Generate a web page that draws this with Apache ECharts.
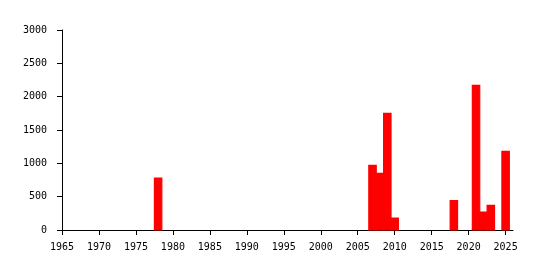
<!DOCTYPE html>
<html><head><meta charset="utf-8">
<script src="https://cdn.jsdelivr.net/npm/echarts@6/dist/echarts.min.js"></script>
<style>html,body{margin:0;padding:0;background:#fff}#c{width:541px;height:270px}</style>
</head><body><div id="c"></div>
<script>
const years = [1978, 2007, 2008, 2009, 2010, 2018, 2021, 2022, 2023, 2025];
const values = [780, 970, 850, 1750, 180, 440, 2170, 270, 370, 1180];
const xTicks = [1965, 1970, 1975, 1980, 1985, 1990, 1995, 2000, 2005, 2010, 2015, 2020, 2025];
const yTicks = [0, 500, 1000, 1500, 2000, 2500, 3000];

const chart = echarts.init(document.getElementById('c'), null, {renderer: 'canvas'});
const font = {fontFamily: 'DejaVu Sans Mono', fontSize: 10, color: '#000'};
chart.setOption({
  animation: false,
  backgroundColor: '#fff',
  grid: {left: 62, right: 28, top: 30, bottom: 40, containLabel: false},
  xAxis: {
    type: 'value', min: 1965, max: 2026, interval: 5,
    axisLine: {lineStyle: {color: '#000', width: 1}},
    axisTick: {length: 5, lineStyle: {color: '#000'}, customValues: xTicks},
    axisLabel: Object.assign({margin: 12, customValues: xTicks, formatter: v => String(v)}, font),
    splitLine: {show: false}
  },
  yAxis: {
    type: 'value', min: 0, max: 3000, interval: 500,
    axisLine: {show: true, lineStyle: {color: '#000', width: 1}},
    axisTick: {show: true, length: 5, lineStyle: {color: '#000'}, customValues: yTicks},
    axisLabel: Object.assign({margin: 15, customValues: yTicks, formatter: v => String(v)}, font),
    splitLine: {show: false}
  },
  series: [{
    type: 'custom',
    data: years.map((y, i) => [y, values[i]]),
    renderItem: function (params, api) {
      const x = api.value(0), v = api.value(1);
      const p0 = api.coord([x - 0.5, v]);
      const p1 = api.coord([x + 0.5, 0]);
      return {type: 'rect', shape: {x: p0[0], y: p0[1], width: p1[0] - p0[0], height: p1[1] - p0[1]},
        style: {fill: '#ff0000', stroke: '#ff0000', lineWidth: 1.2}};
    }
  }]
});
</script></body></html>
